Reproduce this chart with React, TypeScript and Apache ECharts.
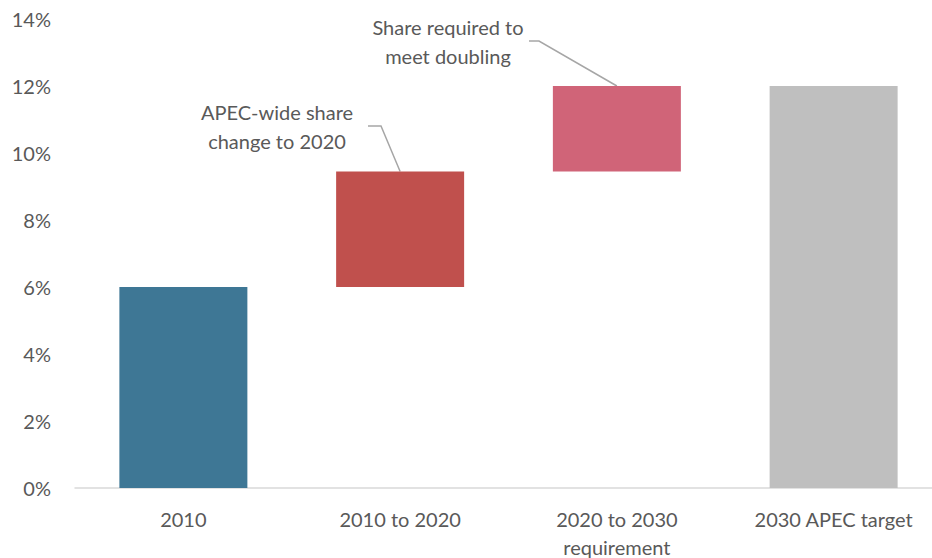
import React, { useEffect, useRef } from "react";
import * as echarts from "echarts";

const categories = ["2010", "2010 to 2020", "2020 to 2030\nrequirement", "2030 APEC target"];
const baseValues = [0, 6, 9.45, 0];
const deltaValues = [6, 3.45, 2.55, 12];
const barColors = ["#3E7795", "#C0504D", "#D06478", "#BFBFBF"];
const yTicks = { min: 0, max: 14, interval: 2 };
const annotations = [
  { text: "APEC-wide share\nchange to 2020", barIndex: 1 },
  { text: "Share required to\nmeet doubling", barIndex: 2 },
];

const FONT = "Lato, 'Open Sans', sans-serif";
const TXT = "#595959";
const FS = 20;

export default function App() {
  const ref = useRef<HTMLDivElement>(null);
  useEffect(() => {
    document.body.style.margin = "0";
    if (!ref.current) return;
    const chart = echarts.init(ref.current, undefined, { renderer: "svg" });
    chart.setOption({
      animation: false,
      backgroundColor: "#ffffff",
      grid: { left: 75, right: -10, top: 19, bottom: 70, containLabel: false, outerBoundsMode: "none" },
      xAxis: {
        type: "category",
        data: categories,
        axisLine: { lineStyle: { color: "#D9D9D9", width: 1.5 } },
        axisTick: { show: false },
        axisLabel: { color: TXT, fontFamily: FONT, fontSize: FS, lineHeight: 28, margin: 17 },
      },
      yAxis: {
        type: "value",
        min: yTicks.min,
        max: yTicks.max,
        interval: yTicks.interval,
        splitLine: { show: false },
        axisLine: { show: false },
        axisTick: { show: false },
        axisLabel: { color: TXT, fontFamily: FONT, fontSize: FS, margin: 24, formatter: "{value}%" },
      },
      series: [
        {
          type: "bar",
          stack: "w",
          data: baseValues,
          itemStyle: { color: "transparent" },
          barWidth: 128,
          silent: true,
        },
        {
          type: "bar",
          stack: "w",
          barWidth: 128,
          data: deltaValues.map((v, i) => ({ value: v, itemStyle: { color: barColors[i] } })),
        },
      ],
    });

    const p1 = chart.convertToPixel({ gridIndex: 0 }, [1, baseValues[1] + deltaValues[1]]) as number[];
    const p2 = chart.convertToPixel({ gridIndex: 0 }, [2, baseValues[2] + deltaValues[2]]) as number[];
    const lineStyle = { stroke: "#A6A6A6", lineWidth: 1.5, fill: "none" };
    chart.setOption({
      graphic: [
        {
          type: "text",
          x: 277,
          y: 126,
          style: {
            text: annotations[0].text,
            fill: TXT,
            font: `${FS}px ${FONT}`,
            lineHeight: 29,
            align: "center",
            verticalAlign: "middle",
          },
        },
        {
          type: "polyline",
          shape: { points: [[368, 126], [381, 126], [p1[0], p1[1]]] },
          style: lineStyle,
        },
        {
          type: "text",
          x: 448,
          y: 41,
          style: {
            text: annotations[1].text,
            fill: TXT,
            font: `${FS}px ${FONT}`,
            lineHeight: 29,
            align: "center",
            verticalAlign: "middle",
          },
        },
        {
          type: "polyline",
          shape: { points: [[529, 41], [539, 41], [p2[0], p2[1]]] },
          style: lineStyle,
        },
      ],
    });
    return () => chart.dispose();
  }, []);
  return <div ref={ref} style={{ width: 932, height: 558 }} />;
}
